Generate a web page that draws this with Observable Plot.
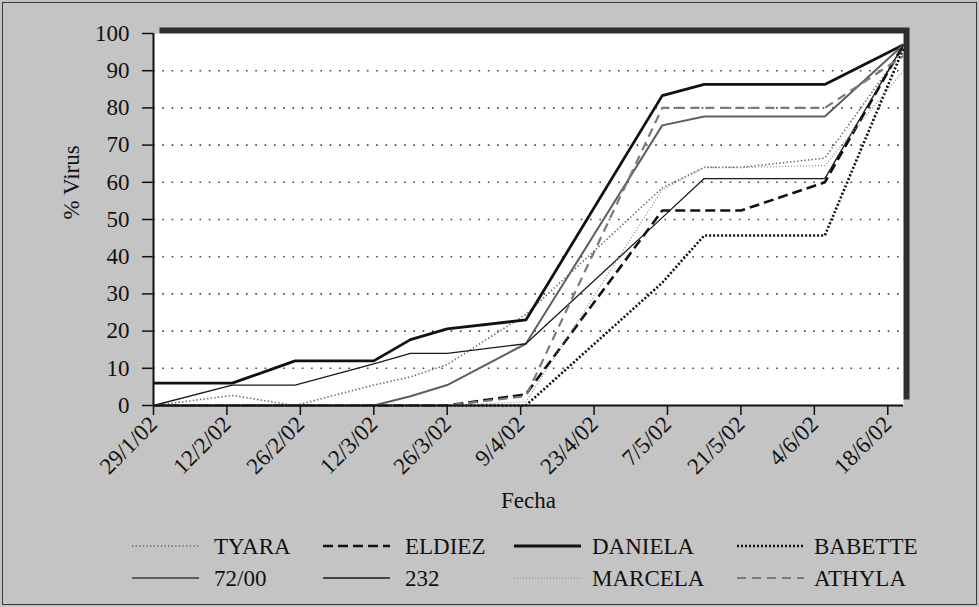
<!DOCTYPE html>
<html><head><meta charset="utf-8">
<script src="https://cdn.jsdelivr.net/npm/d3@7"></script>
<script src="https://cdn.jsdelivr.net/npm/@observablehq/plot@0.6"></script>
<style>
html,body{margin:0;padding:0;background:#c4c4c4;}
#wrap{position:relative;width:979px;height:607px;background:#c4c4c4;overflow:hidden;font-family:"Liberation Serif","Times New Roman",serif;}
#border{position:absolute;left:2px;top:2px;width:975px;height:603px;border:1.5px solid #3a3a3a;box-sizing:border-box;pointer-events:none;}
svg{display:block;}
</style></head><body><div id="wrap"><div id="border"></div></div>
<script>
// ---- data ----
const dates = ["29/1/02","13/2/02","25/2/02","12/3/02","19/3/02","26/3/02","10/4/02","6/5/02","14/5/02","21/5/02","6/6/02","21/6/02"];
const tickLabels = ["29/1/02","12/2/02","26/2/02","12/3/02","26/3/02","9/4/02","23/4/02","7/5/02","21/5/02","4/6/02","18/6/02"];
const yTicks = [0,10,20,30,40,50,60,70,80,90,100];
const seriesNames = ["TYARA","ELDIEZ","DANIELA","BABETTE","72/00","232","MARCELA","ATHYLA"];
const TYARA   = [0, 2.7, 0, 5.5, 7.7, 11, 24.5, 58.5, 64, 64, 66.5, 96];
const ELDIEZ  = [0, 0, 0, 0, 0, 0, 3, 52.4, 52.4, 52.4, 60, 97];
const DANIELA = [6, 6, 12, 12, 17.7, 20.6, 23, 83.3, 86.3, 86.3, 86.3, 97];
const BABETTE = [0, 0, 0, 0, 0, 0, 0, 33, 45.7, 45.7, 45.7, 96];
const S7200   = [0, 0, 0, 0, 2.5, 5.5, 16.6, 75.3, 77.7, 77.7, 77.7, 97];
const S232    = [0, 5.5, 5.5, 11.2, 14, 14, 16.6, 50.5, 61, 61, 61, 97];
const MARCELA = [0, 0, 0, 0, 0, 0, 1, 58, 64, 64, 64.5, 90];
const ATHYLA  = [0, 0, 0, 0, 0, 0, 2.5, 80, 80, 80, 80, 94];
const seriesValues = [TYARA, ELDIEZ, DANIELA, BABETTE, S7200, S232, MARCELA, ATHYLA];

// ---- styles ----
const styles = {
  "TYARA":   {stroke:"#6a6a6a", strokeWidth:1.6, strokeDasharray:"1.4,2.2"},
  "ELDIEZ":  {stroke:"#111", strokeWidth:2.6, strokeDasharray:"10,5"},
  "DANIELA": {stroke:"#111", strokeWidth:2.8, strokeDasharray:null},
  "BABETTE": {stroke:"#111", strokeWidth:2.6, strokeDasharray:"2,2"},
  "72/00":   {stroke:"#5e5e5e", strokeWidth:2, strokeDasharray:null},
  "232":     {stroke:"#1a1a1a", strokeWidth:1.3, strokeDasharray:null},
  "MARCELA": {stroke:"#8a8a8a", strokeWidth:1.2, strokeDasharray:"1,2"},
  "ATHYLA":  {stroke:"#7a7a7a", strokeWidth:2.2, strokeDasharray:"9,6"}
};

const parse = d3.utcParse("%d/%m/%y");
const dateObjs = dates.map(parse);
const tickDates = tickLabels.map(parse);
const labelByTime = new Map(tickDates.map((d,i)=>[+d, tickLabels[i]]));

const rows = [];
seriesNames.forEach((name, si) => {
  seriesValues[si].forEach((v, i) => rows.push({name, date: dateObjs[i], value: v}));
});

const lineMarks = seriesNames.map(name => Plot.line(rows.filter(r => r.name === name), {
  x: "date", y: "value",
  stroke: styles[name].stroke, strokeWidth: styles[name].strokeWidth,
  strokeDasharray: styles[name].strokeDasharray || undefined,
  strokeLinejoin: "miter", strokeLinecap: "butt"
}));

const chart = Plot.plot({
  width: 979, height: 525,
  marginLeft: 153, marginRight: 76, marginTop: 33, marginBottom: 120,
  style: {fontFamily: "Liberation Serif, Times New Roman, serif", fontSize: "22px", color: "#111", background: "transparent"},
  x: {type: "utc", domain: [dateObjs[0], dateObjs[dateObjs.length-1]]},
  y: {domain: [0, 100]},
  marks: [
    Plot.frame({fill: "#2e2e2e", dx: 6, dy: -6}),
    Plot.frame({fill: "white"}),
    Plot.gridY(yTicks.filter(t => t > 0 && t < 100), {stroke: "#444", strokeOpacity: 1, strokeWidth: 1.6, strokeDasharray: "1.6,7.7"}),
    ...lineMarks,
    Plot.ruleY([0], {stroke: "#111", strokeWidth: 2}),
    Plot.ruleX([dateObjs[0]], {stroke: "#111", strokeWidth: 2}),
    Plot.axisX({ticks: tickDates, tickFormat: d => labelByTime.get(+d), tickRotate: -45, tickSize: 10, tickPadding: 5, fontSize: 23, label: null, stroke: "#111", strokeWidth: 1.5}),
    Plot.axisY({ticks: yTicks, tickSize: 11, tickPadding: 13, fontSize: 23, label: null, stroke: "#111", strokeWidth: 1.5}),
    Plot.text(["Fecha"], {frameAnchor: "bottom", dy: 102, fontSize: 23, fill: "#111"}),
    Plot.text(["% Virus"], {frameAnchor: "left", dx: -82, rotate: -90, fontSize: 23, fill: "#111"})
  ]
});
document.getElementById("wrap").appendChild(chart);

// ---- legend ----
const legendSvg = d3.select("#wrap").append("svg").attr("width", 979).attr("height", 82)
  .style("font-family", "Liberation Serif, Times New Roman, serif");
const colSample = [132, 323, 514, 737];
const colLabel = [214, 405, 592, 814];
const rowY = [21, 53];
seriesNames.forEach((name, i) => {
  const r = Math.floor(i / 4), c = i % 4;
  const st = styles[name];
  legendSvg.append("line")
    .attr("x1", colSample[c]).attr("x2", colSample[c] + 67)
    .attr("y1", rowY[r]).attr("y2", rowY[r])
    .attr("stroke", st.stroke).attr("stroke-width", st.strokeWidth)
    .attr("stroke-dasharray", st.strokeDasharray);
  legendSvg.append("text").attr("x", colLabel[c]).attr("y", rowY[r])
    .attr("dy", "0.35em").attr("font-size", 23).attr("fill", "#111").text(name);
});
</script></body></html>
